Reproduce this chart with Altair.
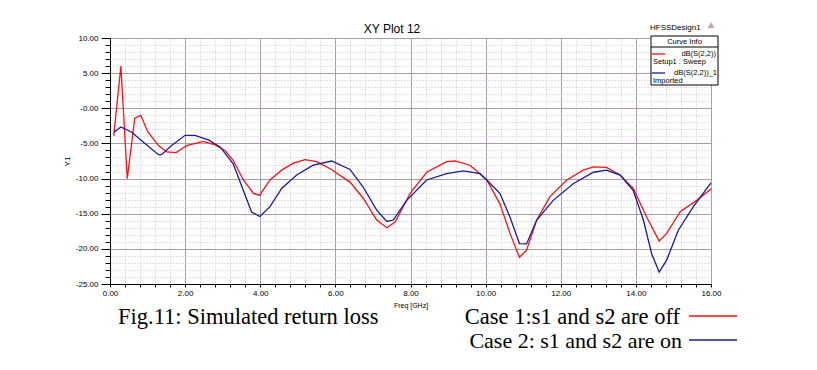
import altair as alt
import pandas as pd

# ---- data ----
case1_freq = [0.10, 0.29, 0.46, 0.66, 0.82, 1.00, 1.29, 1.51, 1.76, 2.04, 2.48, 2.80, 3.06, 3.28,
              3.55, 3.82, 3.98, 4.26, 4.57, 4.88, 5.19, 5.50, 5.86, 6.39, 6.74, 7.10, 7.37, 7.59,
              7.99, 8.43, 8.96, 9.19, 9.58, 9.85, 10.03, 10.38, 10.65, 10.90, 11.09, 11.36, 11.71,
              12.16, 12.60, 12.87, 13.22, 13.58, 13.93, 14.29, 14.62, 14.82, 15.18, 15.62, 16.00]
case1_db = [-3.9, 6.0, -10.0, -1.4, -1.0, -3.3, -5.3, -6.2, -6.3, -5.3, -4.7, -5.2, -6.0, -7.4,
            -10.2, -12.1, -12.4, -10.2, -8.8, -7.8, -7.3, -7.6, -8.6, -10.5, -12.8, -15.9, -17.0, -16.2,
            -12.1, -9.1, -7.6, -7.5, -8.1, -9.3, -10.2, -13.6, -17.8, -21.2, -20.2, -15.9, -12.6,
            -10.2, -8.8, -8.35, -8.4, -9.5, -11.4, -15.5, -18.9, -17.8, -14.7, -13.1, -11.5]

case2_freq = [0.10, 0.29, 0.58, 0.93, 1.29, 1.37, 1.64, 2.00, 2.26, 2.62, 2.93, 3.28, 3.55, 3.77,
              3.99, 4.26, 4.57, 4.97, 5.41, 5.90, 6.39, 6.74, 7.10, 7.37, 7.54, 7.90, 8.43, 8.96,
              9.41, 9.85, 10.03, 10.38, 10.65, 10.90, 11.09, 11.36, 11.80, 12.34, 12.87, 13.22,
              13.58, 13.93, 14.20, 14.42, 14.62, 14.82, 15.13, 15.53, 16.00]
case2_db = [-3.4, -2.65, -3.4, -5.0, -6.6, -6.6, -5.3, -3.85, -3.85, -4.5, -5.5, -7.9, -11.7, -14.75,
            -15.4, -14.0, -11.4, -9.5, -8.1, -7.5, -8.7, -11.2, -14.5, -16.1, -15.9, -13.1, -10.2, -9.3,
            -8.9, -9.3, -10.2, -12.1, -15.5, -19.25, -19.3, -15.9, -13.1, -10.7, -9.1, -8.8,
            -9.5, -11.7, -15.9, -20.7, -23.3, -21.6, -17.35, -14.0, -10.6]

series_names = ["Case 1", "Case 2"]
series_colors = ["#ff1010", "#1a1a9a"]

x_ticks = [round(i * 0.4, 1) for i in range(41)]
y_ticks = list(range(-25, 11))
y_major = [10, 5, 0, -5, -10, -15, -20, -25]
y_labels = ["10.00", "5.00", "-0.00", "-5.00", "-10.00", "-15.00", "-20.00", "-25.00"]

df = pd.concat([
    pd.DataFrame({"freq": case1_freq, "db": case1_db, "series": series_names[0]}),
    pd.DataFrame({"freq": case2_freq, "db": case2_db, "series": series_names[1]}),
])

W, H = 601, 246
FONT = "Liberation Sans"
SERIF = "Liberation Serif"

x_major_test = "abs(datum.value/2 - round(datum.value/2)) < 0.001"
y_major_test = "abs(datum.value/5 - round(datum.value/5)) < 0.001"
y_label_expr = "".join(f"abs(datum.value - ({v})) < 0.001 ? '{s}' : " for v, s in zip(y_major, y_labels)) + "''"

x_axis = alt.Axis(
    values=x_ticks, title="Freq [GHz]", titleFont=FONT, titleFontSize=7, titleFontWeight="normal",
    titlePadding=4, labelExpr=f"{x_major_test} ? format(datum.value, '.2f') : ''",
    labelFont=FONT, labelFontSize=8, labelColor="black", labelOverlap=False, labelPadding=2,
    labelFlush=False,
    tickSize=3, tickColor="black", domainColor="black",
    gridColor={"condition": {"test": x_major_test, "value": "#a89cab"}, "value": "#cdbfcf"},
    gridDash={"condition": {"test": x_major_test, "value": []}, "value": [1, 2]},
)
y_axis = alt.Axis(
    values=y_ticks, title="Y1", titleFont=FONT, titleFontSize=8, titleFontWeight="normal",
    titlePadding=4, labelExpr=y_label_expr,
    labelFont=FONT, labelFontSize=8, labelColor="black", labelOverlap=False, labelPadding=3,
    labelFlush=False,
    tickSize={"condition": {"test": y_major_test, "value": 9}, "value": 5},
    tickColor="black", domainColor="black",
    gridColor={"condition": {"test": y_major_test, "value": "#a89cab"}, "value": "#cdbfcf"},
    gridDash={"condition": {"test": y_major_test, "value": []}, "value": [1, 2]},
)

lines = alt.Chart(df).mark_line(strokeWidth=1.3).encode(
    x=alt.X("freq:Q", scale=alt.Scale(domain=[0, 16], nice=False, zero=False), axis=x_axis),
    y=alt.Y("db:Q", scale=alt.Scale(domain=[-25, 10], nice=False, zero=False), axis=y_axis),
    color=alt.Color("series:N", scale=alt.Scale(domain=series_names, range=series_colors), legend=None),
    order="freq:Q",
)

one = alt.Data(values=[{}])


def txt(s, x, y, size, font=FONT, align="left", color="black"):
    return alt.Chart(one).mark_text(text=s, font=font, fontSize=size, align=align,
                                    baseline="middle", color=color).encode(
        x=alt.value(x), y=alt.value(y))


def hline(x1, x2, y, color, width=1.3):
    return alt.Chart(one).mark_rule(color=color, strokeWidth=width).encode(
        x=alt.value(x1), x2=alt.value(x2), y=alt.value(y))


box = alt.Chart(one).mark_rect(fill="white", stroke="black", strokeWidth=1).encode(
    x=alt.value(541), x2=alt.value(608), y=alt.value(-2), y2=alt.value(47))

layers = [
    lines,
    txt("XY Plot 12", 282, -9, 12, align="center"),
    txt("HFSSDesign1", 540, -10, 8),
    alt.Chart(one).mark_point(shape="triangle-up", filled=True, color="#b08080", size=50).encode(
        x=alt.value(601), y=alt.value(-13)),
    box,
    hline(541, 608, 9, "black", 1),
    txt("Curve Info", 574.5, 4, 7.5, align="center"),
    hline(542, 555, 16, series_colors[0]),
    txt("dB(S(2,2))", 606, 16, 7.5, align="right"),
    txt("Setup1 : Sweep", 543, 23.5, 7.5),
    hline(542, 555, 35, series_colors[1]),
    txt("dB(S(2,2))_1", 607, 35, 7.5, align="right"),
    txt("Imported", 543, 42.5, 7.5),
    txt("Fig.11: Simulated return loss", 8, 279, 22.5, font=SERIF),
    txt("Case 1:s1 and s2 are off", 570, 279, 22.5, font=SERIF, align="right"),
    hline(579, 627, 278, series_colors[0], 1.5),
    txt("Case 2: s1 and s2 are on", 572, 303, 22, font=SERIF, align="right"),
    hline(579, 627, 302, series_colors[1], 1.5),
]

chart = alt.layer(*layers).properties(
    width=W, height=H,
    autosize=alt.AutoSizeParams(type="none"),
    padding={"left": 102, "top": 30, "right": 98, "bottom": 78},
    background="white",
).configure_view(stroke="black", strokeWidth=1)

chart.save("out.html", embed_options={"renderer": "svg", "actions": False})
